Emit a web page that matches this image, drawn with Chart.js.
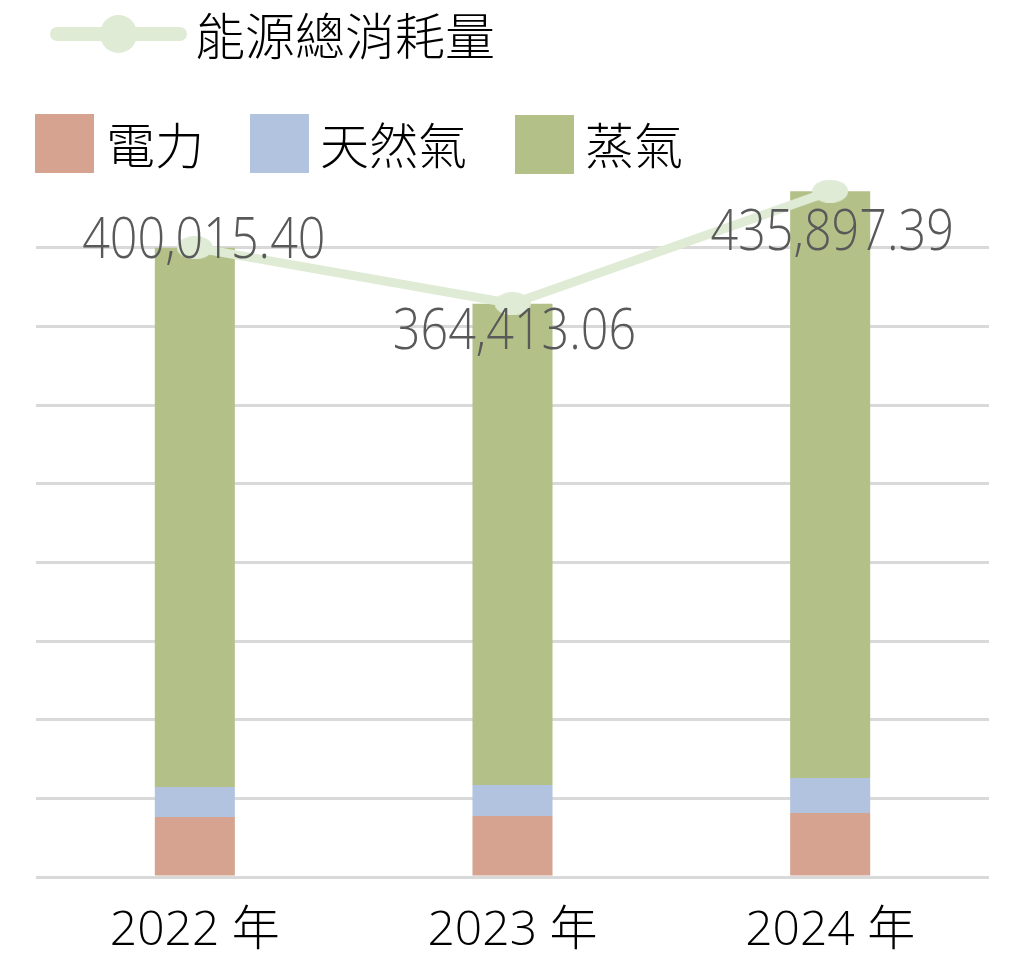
<!DOCTYPE html>
<html lang="zh-Hant">
<head>
<meta charset="utf-8">
<title>能源總消耗量</title>
<script src="https://cdn.jsdelivr.net/npm/chart.js@4/dist/chart.umd.min.js"></script>
<style>
    html, body { margin: 0; padding: 0; background: #fff; }
    .wrap { position: relative; width: 1012px; height: 963px; }
    .legend-text {
        position: absolute;
        font-family: "Noto Sans CJK TC", "Noto Sans", sans-serif;
        font-weight: 300;
        font-size: 49px;
        line-height: 49px;
        color: #000;
        white-space: nowrap;
    }
    .swatch { position: absolute; width: 59px; height: 59px; }
    .legend-line {
        position: absolute; left: 50px; top: 27px;
        width: 137px; height: 14px; border-radius: 7px;
    }
    .legend-dot {
        position: absolute; left: 100px; top: 15px;
        width: 37px; height: 38px; border-radius: 50%;
    }
</style>
</head>
<body>
<div class="wrap">
    <canvas id="energyChart"></canvas>
    <div class="legend-line" id="lgLine"></div>
    <div class="legend-dot" id="lgDot"></div>
    <div class="legend-text" style="left:195px; top:8px; font-size:50px; line-height:50px;">能源總消耗量</div>

    <div class="swatch" id="sw0" style="left:35px; top:114px;"></div>
    <div class="legend-text" style="left:106px; top:118px;">電力</div>
    <div class="swatch" id="sw1" style="left:250px; top:114px;"></div>
    <div class="legend-text" style="left:320px; top:118px;">天然氣</div>
    <div class="swatch" id="sw2" style="left:515px; top:115px;"></div>
    <div class="legend-text" style="left:585px; top:118px;">蒸氣</div>
</div>
<script>
// Data
const years = ['2022 年', '2023 年', '2024 年'];
const electricity = [38155, 38792, 40700];
const naturalGas = [19078, 19714, 22260];
const steam = [342782, 305907, 372937];
const totalValues = [400015.40, 364413.06, 435897.39];

const seriesNames = ['電力', '天然氣', '蒸氣', '能源總消耗量'];
const barColors = ['#D6A391', '#B2C3E0', '#B3C189'];
const lineColor = '#DFEBD5';

const axisMax = 450000;
const gridStep = 50000;
const gridTop = 400000;

// value labels: nudges relative to each point
const labelShiftX = [9, 2, 2];
const labelShiftY = [-6, 29, 43];

// legend colours
document.getElementById('lgLine').style.background = lineColor;
document.getElementById('lgDot').style.background = lineColor;
barColors.forEach((c, i) => {
    document.getElementById('sw' + i).style.background = c;
});

// elliptical marker for the total line
function makeMarker(w, h, color) {
    const c = document.createElement('canvas');
    c.width = w;
    c.height = h;
    const g = c.getContext('2d');
    g.fillStyle = color;
    g.beginPath();
    g.ellipse(w / 2, h / 2, w / 2, h / 2, 0, 0, Math.PI * 2);
    g.fill();
    return c;
}
const marker = makeMarker(36, 23, lineColor);

function formatValue(v) {
    return v.toLocaleString('en-US', { minimumFractionDigits: 2, maximumFractionDigits: 2 });
}

const valueLabels = {
    id: 'valueLabels',
    afterDatasetsDraw(chart) {
        const meta = chart.getDatasetMeta(3);
        const ctx = chart.ctx;
        ctx.save();
        ctx.font = '300 48px "Open Sans"';
        ctx.fillStyle = '#595959';
        ctx.textAlign = 'center';
        ctx.textBaseline = 'middle';
        meta.data.forEach((pt, i) => {
            ctx.save();
            ctx.translate(pt.x + labelShiftX[i], pt.y + labelShiftY[i]);
            ctx.scale(1.01, 1.17);
            ctx.fillText(formatValue(totalValues[i]), 0, 0);
            ctx.restore();
        });
        ctx.restore();
    }
};

function barSet(label, data, color) {
    return {
        type: 'bar',
        label: label,
        data: data,
        backgroundColor: color,
        borderWidth: 0,
        stack: 'energy',
        order: 1,
        barPercentage: 0.252,
        categoryPercentage: 1
    };
}

new Chart(document.getElementById('energyChart'), {
    data: {
        labels: years,
        datasets: [
            barSet(seriesNames[0], electricity, barColors[0]),
            barSet(seriesNames[1], naturalGas, barColors[1]),
            barSet(seriesNames[2], steam, barColors[2]),
            {
                type: 'line',
                label: seriesNames[3],
                data: totalValues,
                borderColor: lineColor,
                backgroundColor: lineColor,
                borderWidth: 9,
                tension: 0,
                stack: 'total',
                order: 0,
                pointStyle: marker,
                pointRadius: 12
            }
        ]
    },
    options: {
        responsive: true,
        maintainAspectRatio: false,
        animation: false,
        layout: {
            padding: { top: 169, left: 36, right: 23, bottom: 6 }
        },
        plugins: {
            legend: { display: false },
            tooltip: { enabled: false }
        },
        scales: {
            x: {
                stacked: true,
                grid: { display: false },
                border: { display: false },
                ticks: {
                    color: '#000',
                    padding: 18,
                    font: { family: '"Open Sans", "Noto Sans CJK TC"', size: 48, weight: 300 }
                },
                afterFit: s => { s.height = 80; }
            },
            y: {
                stacked: true,
                min: 0,
                max: axisMax,
                border: { display: false },
                ticks: { display: false, stepSize: gridStep },
                grid: {
                    drawTicks: false,
                    lineWidth: 3,
                    color: ctx => (ctx.tick && ctx.tick.value > gridTop) ? 'rgba(0,0,0,0)' : '#D9D9D9'
                },
                afterFit: s => { s.width = 0; }
            }
        }
    },
    plugins: [valueLabels]
});
</script>
</body>
</html>
